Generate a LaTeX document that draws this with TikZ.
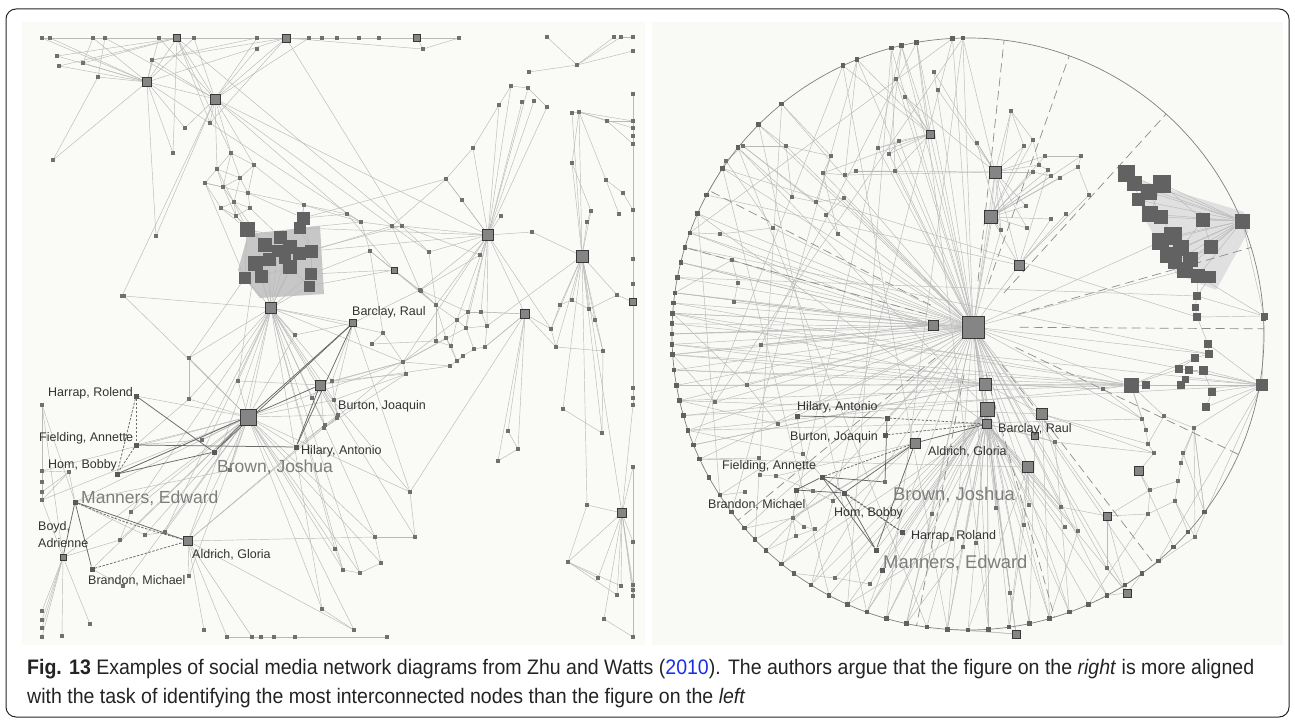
\documentclass[tikz,border=0pt]{standalone}
\usepackage{fontspec}
\setmainfont{Liberation Sans}
\newfontfamily\capfont[FakeStretch=0.93]{Liberation Sans}
\usetikzlibrary{calc}
\definecolor{edgec}{RGB}{185,185,185}
\definecolor{nodec}{RGB}{112,112,112}
\definecolor{darksq}{RGB}{98,98,98}
\definecolor{panelL}{RGB}{250,250,247}
\definecolor{panelR}{RGB}{249,249,246}
\definecolor{egoc}{RGB}{105,105,105}
\definecolor{linkblue}{RGB}{25,45,235}
\definecolor{biglabc}{RGB}{125,125,125}
\definecolor{capc}{RGB}{35,35,35}
\pgfdeclarelayer{panel}
\pgfdeclarelayer{bg}
\pgfsetlayers{panel,bg,main}
\begin{document}
\begin{tikzpicture}[x=1pt,y=-1pt,
  sn/.style={rectangle,fill=nodec,minimum size=3.4pt,inner sep=0pt},
  pn/.style={rectangle,fill=black!62,minimum size=4.5pt,inner sep=0pt},
  en/.style={rectangle,fill=black!65,minimum size=5pt,inner sep=0pt},
  mq/.style={rectangle,draw=black!78,fill=black!48,line width=0.7pt,minimum size=#1,inner sep=0pt},
  mq/.default=9pt,
  bq/.style={rectangle,fill=darksq,minimum size=#1,inner sep=0pt},
  bq/.default=13pt,
  ed/.style={draw=edgec,line width=0.45pt},
  ego/.style={draw=egoc,line width=0.75pt},
  egod/.style={draw=egoc,line width=0.75pt,dash pattern=on 2.5pt off 1.5pt},
  dsh/.style={draw=black!45,line width=0.7pt,dash pattern=on 9pt off 5pt},
  lab/.style={font=\fontsize{12.5}{13}\selectfont,text=black!80,inner sep=0pt,anchor=west},
  biglab/.style={font=\fontsize{17.5}{19}\selectfont,text=biglabc,inner sep=0pt,anchor=west},
  capt/.style={font=\capfont\fontsize{21}{25}\selectfont,text=capc,inner sep=0pt,anchor=base west},
]
\useasboundingbox (0,0) rectangle (1295,722);

% ---------------- panels and frame ----------------
\begin{pgfonlayer}{panel}
\fill[panelL] (22,22) rectangle (645,645);
\fill[panelR] (652,22) rectangle (1283,645);
\fill[black!22] (248,234) -- (320,226) -- (324,294) -- (260,298) -- (238,270) -- cycle;
\fill[black!12] (1138,180) -- (1244,212) -- (1248,232) -- (1216,290) -- (1176,274) -- (1143,216) -- cycle;
\end{pgfonlayer}
\draw[black!85,line width=1pt,rounded corners=10pt] (6,9) rectangle (1289,717);

% ================= LEFT PANEL =================
\foreach \n/\x/\y in {t1/42/38, t2/50/38, t3/93/38, t4/105/38, t5/159/38, t7/194/38, t8/257/38, t10/309/38, t11/322/38, t12/337/38, t13/359/38, t14/379/38, t16/459/38, t17/423/49,
 u1/547/37, u2/577/65, u3/614/37, u4/621/37, u5/633/37, u6/633/51, u7/529/72,
 p1/57/56, p2/59/66, p3/83/63, p4/98/77, p5/53/160, p6/152/60, p7/257/49, p8/185/128, p9/173/153, p10/210/123, p11/156/236, p12/122/296,
 a1/231/153, a2/254/165, a3/217/169, a4/205/183, a5/223/187, a6/240/178, a7/248/193, a8/221/208, a9/236/216, a10/250/208, a11/234/202, a12/304/205,
 m1/347/214, m2/361/222, m3/392/226, m4/402/226, m5/370/251, m7/421/291, m8/124/296, m9/295/335, m10/189/358, m11/189/399, m12/238/381, m13/429/252,
 c1/480/255, c2/446/179, c3/473/148, c4/499/105, c5/511/86, c6/528/88, c7/522/102, c8/534/101, c9/547/107, c10/501/216, c11/532/232, c12/462/200,
 d1/436/305, d2/457/320, d3/468/312, d4/481/312, d5/466/328, d6/487/326, d7/446/338, d8/436/341, d9/451/346, d10/474/349, d11/485/347, d12/457/361, d13/463/356, d14/450/366, d15/403/362, d16/420/290, d17/406/374,
 r1/633/94, r2/633/128, r3/633/136, r4/633/144, r5/633/210, r6/633/259, r7/633/284, r8/633/388, r9/633/398, r10/633/405,
 e1/572/113, e2/607/121, e3/633/121, e4/572/163, e5/606/180, e6/591/211, e7/623/193, e8/619/214, e9/587/222, e10/579/112,
 f1/572/300, f2/560/305, f3/589/309, f4/595/320, f5/551/329, f6/556/347, f7/617/295, f8/603/351, f9/563/409, f10/602/433, f11/498/461, f12/508/431, f13/518/449,
 g1/633/467, g2/633/542, g3/633/585, g4/633/590, g5/633/596, g6/633/637, g7/568/562, g8/587/505, g9/598/578, g10/621/586, g11/617/595, g12/604/619,
 h1/383/333, h2/372/344, h3/332/381, h4/337/418, h5/324/428, h6/410/492, h7/415/537, h8/375/537, h9/381/563, h10/360/573, h11/343/570, h12/335/549, h13/354/630, h14/322/609, h15/189/576, h16/204/630, h17/90/624, h18/123/586,
 k1/227/637, k2/252/637, k3/261/637, k4/274/637, k5/295/637, k6/387/637,
 l1/42/405, l2/42/471, l3/42/482, l4/42/492, l5/42/500, l6/69/472, l7/42/611, l8/42/620, l9/42/628, l10/42/637, l11/62/636,
 q1/334/400, q2/338/415, q3/325/425, q4/312/398,
 n1/202/440, n2/230/470, v1/131/512, v2/120/540, v3/165/532, v4/145/535}
 \node[sn] (\n) at (\x,\y) {};
\foreach \n/\x/\y in {HI/296/447, HR/136/396, FI/136/445, HO/117/474, MA/75/502, BM/92/569, JX/214/452}
 \node[en] (\n) at (\x,\y) {};
\foreach \n/\x/\y/\s in {T6/177/38/7pt, T9/286/38/8pt, T15/417/38/7pt, S1/147/82/9pt, S2/215/99/10pt, H1/271/308/11pt, M6/394/270/6pt, C1/488/235/11pt, C2/525/314/9pt, C3/582/256/12pt, C4/633/302/7pt, C5/622/513/9pt, BR/248/417/16pt, BA/353/323/7pt, BU/320/385/10pt, AL/188/541/9pt, BO/63/557/6pt}
 \node[mq=\s] (\n) at (\x,\y) {};
\foreach \n/\x/\y/\s in {b1/247/229/15pt, b2/303/218/13pt, b3/265/245/14pt, b4/280/237/13pt, b5/290/247/14pt, b6/299/253/13pt, b7/311/251/13pt, b8/255/263/15pt, b9/269/259/13pt, b10/290/267/14pt, b11/311/274/12pt, b12/245/278/12pt, b13/261/276/13pt, b14/309/286/11pt, b15/278/251/12pt, b16/300/228/12pt, b17/285/258/12pt}
 \node[bq=\s] (\n) at (\x,\y) {};

\begin{pgfonlayer}{bg}
\foreach \a/\b in {t1/t2, t2/t3, t3/t4, t4/t5, t5/T6, T6/t7, t7/t8, t8/T9, T9/t10, t10/t11, t11/t12, t12/t13, t13/t14, t14/T15, T15/t16, t16/t17, t17/T15, T9/t17, t7/T15,
 u1/u2, u2/u3, u2/u4, u2/u6, u2/u7, u4/u5,
 S1/t1, S1/t2, S1/p1, S1/p2, S1/p3, S1/p4, S1/t5, S1/T6, S1/t7, S1/p5, S1/p6, S1/T9, S1/S2, S1/p8, S1/p9, S1/t3,
 S2/t5, S2/T6, S2/t7, S2/p6, S2/p7, S2/T9, S2/p10, S2/p8, S2/p11, S2/t4, S2/a1, S2/a3, S2/t10,
 T6/p1, T6/p2, T6/p3, T6/p10, T6/p9, T6/a1, t3/p3, t4/p4, T9/p6, T9/p10, t8/p6, t8/S2, p11/S1, p12/S2, p5/p4,
 S2/a2, S2/m1, S2/m3, S1/m2, T6/m4, T9/m4, S2/C1,
 a1/a3, a1/a6, a1/a2, a2/a6, a2/a7, a3/a4, a3/a5, a4/a5, a4/a8, a5/a6, a5/a11, a6/a7, a6/a11, a7/a10, a8/a9, a8/a11, a9/a10, a9/a11, a10/a11, a2/a12, a7/a12, a12/m1, a12/m2, a4/a7, a3/a6, a5/a9, a1/a5,
 a8/b1, a9/b1, a9/b3, a10/b4, a11/b3, a7/b2, a12/b2, a12/b16, a4/b12, a3/b1,
 b1/b3, b1/b4, b3/b8, b3/b9, b4/b5, b5/b6, b6/b7, b7/b11, b8/b12, b9/b13, b10/b14, b11/b14, b15/b17, b2/b16, b16/b7, b4/b15, b12/b13, b13/b10, b1/b12, b2/b7,
 b8/H1, b9/H1, b10/H1, b11/H1, b12/H1, b13/H1, b14/H1, b17/H1, b6/H1, b3/H1, b15/H1,
 b2/m1, b16/m2, b7/m3, b11/m5, b14/M6, b6/m4, b7/C1, b2/c2, b16/C1, b11/M6,
 H1/m8, H1/m9, H1/m10, H1/m11, H1/m12, H1/BR, H1/BU, H1/BA, H1/h3, H1/h4, H1/h11, H1/h12, H1/h10, H1/q1, H1/d15, H1/h14, H1/h1, H1/AL, H1/n1, H1/h8, H1/q3,
 m1/m2, m2/m3, m3/m4, m4/C1, m4/c1, m3/m13, m5/M6, M6/m7, m7/d16, m13/d1, m2/m5, m1/M6, m4/m13, m13/C1, m3/d16, m5/d1, M6/d1, m5/h1,
 C1/c1, C1/c2, C1/c3, C1/c4, C1/c5, C1/c6, C1/c7, C1/c8, C1/c9, C1/c10, C1/c11, C1/c12, C1/d1, C1/d2, C1/d3, C1/d4, C1/d5, C1/d6, C1/C2, C1/d15, C1/d16, C1/f5, c4/c5, c5/c6, c4/c3, c3/c2, c6/c9, c2/m3, c12/c2, c1/d16,
 d1/d2, d1/d7, d1/d8, d2/d3, d2/d5, d3/d4, d4/d6, d5/d6, d5/d10, d6/d11, d7/d9, d8/d9, d9/d12, d10/d11, d10/d13, d12/d13, d13/d14, d14/d15, d15/d17, d16/d1, d16/d3, d15/d2, d15/d7, d15/d5, d11/C2, d4/C2, d6/C3, d2/d9, d3/d5, d7/d12,
 d15/h3, d15/BR, d15/BU, d15/h1, d17/h5, d17/q1, d14/BU, d15/AL, d16/BA, d8/h2,
 C3/e1, C3/e4, C3/e6, C3/e9, C3/f1, C3/f2, C3/f3, C3/f4, C3/f5, C3/f6, C3/f7, C3/f8, C3/e10, C3/c11, C3/f9, C3/C5, C3/g8,
 e10/e1, e10/e2, e10/e3, e10/e4, e2/e3, e5/e7, e5/e8, e6/e9, e7/r5, e4/e6, e10/e5, e2/r4, e10/r2,
 f1/f2, f2/f5, f3/f4, f4/f8, f5/f6, f6/f8, f1/f3, C4/f7, C4/r6, C4/r7, f7/f3, f10/f9, f10/C3, f8/f10,
 r1/e3, e3/r2, r2/r3, r3/r4, r4/r5, r5/r6, r6/r7, r7/C4, C4/r8, r8/r9, r9/r10, r10/C5,
 C2/f5, C2/f6, C2/d4, C2/d11, C2/f11, C2/f12, C2/f13, f12/f13, f11/f13, C2/h6,
 C5/g1, C5/g2, C5/g3, C5/g4, C5/g5, C5/g7, C5/g8, C5/g9, C5/g10, C5/g11, C5/g12, g7/g9, g7/g10, g7/g11, g1/g2, g2/g3, g3/g4, g4/g5, g5/g6, g8/g7, g12/g6,
 h1/h2, h3/h4, h4/h5, h6/h7, h7/h8, h8/h9, h9/h10, h10/h11, h11/h12, h13/h14, BR/h6, BR/h8, BR/h9, BR/h10, BR/h12, BR/h14, BR/h13, BU/h6, BU/h7, BA/h6, h3/d17, BU/h4, BU/h5,
 AL/h15, AL/h16, AL/k1, AL/k2, AL/h13, h17/BO, h18/BR, BO/l7, BO/l8, BO/l9, BO/l10, BO/l11, l1/l2, l2/l3, l3/l4, l4/l5, l6/l2, l6/l4, l6/l5, l6/MA, l1/MA, l1/BO, l5/BO, k1/k2, k2/k3, k3/k4, k4/k5, k5/k6, h15/BR,
 BR/FI, BR/HO, BR/MA, BR/AL, BR/BO, BR/n1, BR/n2, BR/BM, BR/q1, BR/HI, BR/q2, BR/v1, BR/v3, BR/v4, BR/HR, BR/h11,
 q1/q2, q2/q3, q4/BU, q1/BA, q3/HI, n1/FI, n2/MA, v1/v2, v3/v4, v2/BO, v4/MA, m10/BR, m11/BR, m12/BR, m9/BR, m8/BR, m10/m11, AL/q3, AL/h8, BM/h18, m11/FI,
 BA/m9, BA/h3, BU/m12, H1/v1, H1/v3, H1/n2, b12/m10, b8/m12, BR/l2, BR/l5, BR/v2}
 \draw[ed] (\a) -- (\b);
\foreach \a/\b in {HR/FI, HR/HO, BM/AL, FI/HO}
 \draw[egod] (\a) -- (\b);
\foreach \a/\b in {HR/JX, FI/HI, HO/JX, HO/BU, MA/AL, MA/BM, BR/BA, BA/HI, BU/HI, BA/JX, BR/JX, BO/MA}
 \draw[ego] (\a) -- (\b);
\draw[egod] (MA) .. controls (120,522) and (150,530) .. (AL);
\end{pgfonlayer}

% left labels
\node[lab] (lHR) at (48,393) {Harrap, Rolend};
\node[lab] (lFI) at (39,438) {Fielding, Annette};
\node[lab] (lHO) at (48,465) {Hom, Bobby};
\node[lab] (lBO1) at (38,527) {Boyd,};
\node[lab] (lBO2) at (38,543) {Adrienne};
\node[lab] (lAL) at (192,555) {Aldrich, Gloria};
\node[lab] (lBM) at (88,581) {Brandon, Michael};
\node[lab] (lBA) at (352,312) {Barclay, Raul};
\node[lab] (lBU) at (338,406) {Burton, Joaquin};
\node[lab] (lHI) at (301,451) {Hilary, Antonio};
\node[biglab] (lBR) at (217,467) {Brown, Joshua};
\node[biglab] (lMA) at (81,498) {Manners, Edward};

% ================= RIGHT PANEL =================
\draw[black!50,line width=0.7pt] (968,334) circle[radius=296];
\foreach \a [count=\i] in {269,267,260,257,255,248,245,231,225,219,214,208,204,200,197,194,191,188,186,184,182,180,178,176,173,170,167,164,161,158,155,151,147,143,139,136,133,129,126,122,118,114,110,106,102,98,94,90,86,82,78,74,70,66,62,58,54,50,46,42,37,357,10}
 \node[pn] (o\i) at ([shift={(\a:296)}]968,334) {};
\foreach \n/\x/\y in {i1/934/72, i2/896/79, i3/905/97, i4/938/90, i5/1011/111, i6/977/143, i7/1024/146, i8/1033/140, i9/1045/156, i10/1081/156, i11/1078/167, i12/1039/165, i13/1048/170, i14/1060/178, i15/1051/176, i16/1033/172, i17/1089/195, i18/1026/206, i19/1066/214, i20/1051/219, i21/1027/228, i22/1001/230, i23/899/141, i24/889/154, i25/878/148, i26/743/146, i27/726/161, i28/823/173, i29/845/175, i30/856/171, i31/895/171, i32/786/146, i33/831/156, i34/792/197, i35/816/202, i36/844/198, i37/826/215, i38/838/234, i39/773/228, i40/720/234, i41/732/260, i42/738/283, i43/734/302, i44/747/385, i45/761/345, i46/715/402, i47/778/424, i48/803/454, i49/759/458, i50/745/492, i51/760/475, i52/776/476, i53/813/491, i54/833/501, i55/793/518, i56/804/527, i57/815/529, i58/796/536, i59/885/482, i60/932/514, i61/963/547, i62/976/543, i63/996/508, i64/1024/525, i65/1029/505, i66/1061/507, i67/1065/527, i68/1078/531, i69/1055/442, i70/1107/568, i71/1010/593, i72/952/539, i73/835/578, i74/870/584,
 j1/1142/419, j2/1146/430, j3/1164/416, j4/1194/428, j5/1148/444, j6/1154/453, j7/1183/453, j8/1181/463, j10/1150/490, j11/1178/481, j12/1175/501, j13/1148/514, j14/1195/537, j15/1103/389}
 \node[sn] (\n) at (\x,\y) {};
\foreach \n/\x/\y in {HIr/797/416, hk/887/418, BUr/885/435, FIr/822/477, BMr/796/490, HOr/844/493, HRr/902/532, MAr/882/570, mm/876/550}
 \node[en] (\n) at (\x,\y) {};
\foreach \n/\x/\y/\s in {Z/973/327/22pt, Q1/933/325/10pt, Q2/995/172/12pt, Q3/991/217/13pt, Q4/1019/265/10pt, Q5/930/134/8pt, Q6/985/384/12pt, Q7/987/409/14pt, BAr/987/424/9pt, Q8/1042/414/11pt, Q9/1035/436/7pt, Q10/1028/467/11pt, ALr/915/443/10pt, Q11/1107/516/8pt, Q12/1127/593/8pt, Q13/1016/634/8pt, J9/1139/471/9pt}
 \node[mq=\s] (\n) at (\x,\y) {};
\foreach \n/\x/\y/\s in {X1/1131/385/15pt, X2/1262/385/12pt, y1/1197/296/8pt, y2/1195/307/7pt, y3/1197/317/8pt, y4/1208/344/8pt, y5/1209/354/8pt, y6/1195/358/8pt, y7/1179/369/8pt, y8/1189/370/8pt, y9/1203/370/9pt, y10/1181/385/8pt, y11/1185/379/7pt, y12/1212/392/8pt, y13/1206/407/8pt, y14/1146/385/8pt, y15/1264/316/7pt,
 w1/1126/174/17pt, w2/1134/184/15pt, w3/1149/192/16pt, w4/1162/184/18pt, w5/1150/214/16pt, w6/1161/217/14pt, w7/1173/236/18pt, w8/1160/241/17pt, w9/1181/248/16pt, w10/1168/255/16pt, w11/1190/259/15pt, w12/1185/270/16pt, w13/1198/276/14pt, w14/1203/220/14pt, w15/1211/247/14pt, w16/1242/221/15pt, w17/1210/277/12pt, w18/1138/200/13pt, w19/1175/262/14pt}
 \node[bq=\s] (\n) at (\x,\y) {};

\begin{pgfonlayer}{bg}
\foreach \b in {o1,o2,o3,o5,o6,o8,o9,o11,o13,o15,o17,o19,o21,o23,o25,o27,o29,o31,o33,o35,o37,o40,o43,o45,o47,o49,o51,o53,o55,o57,
 Q1,Q2,Q3,Q4,Q5,Q6,Q7,BAr,Q8,Q10,ALr,Q11,Q12,Q13,X1,X2,i1,i2,i5,i23,i26,i28,i32,i40,i44,i46,i60,i63,i66,i70,i71,w7,w12,y5,j1,i22,i24,i25,i31,i36,i38,i39,i45,hk,BUr,HIr,o14,o16,o18,o20,o22,o24,o26}
 \draw[ed] (Z) -- (\b);
\foreach \a/\b in {Q2/i5, Q2/i6, Q2/i7, Q2/i9, Q2/i12, Q2/i16, Q2/i18, Q2/i21, Q2/Q3, Q2/Q4, Q2/i22, Q2/i1, Q2/i4, Q2/o1, Q2/i3, Q2/i29, Q2/i30,
 Q3/i16, Q3/i18, Q3/i20, Q3/i21, Q3/i22, Q3/Q4, Q3/i7, Q3/i8, Q3/i9, Q3/i11, Q3/i13, Q3/i14, Q3/i15, Q3/i10, Q4/i19, Q4/i20, Q4/i17, Q4/i13,
 i5/i7, i5/i8, i9/i10, i10/i11, i11/i17, i12/i13, i15/i16, i8/i12, i6/i22,
 Q7/i60, Q7/i61, Q7/i62, Q7/i63, Q7/i64, Q7/i65, Q7/o46, Q7/o47, Q7/o48, Q7/o49, Q7/o50, Q7/o51, Q7/o43, Q7/o44, Q7/i72, Q7/i71, Q7/HRr, Q7/mm, Q7/i73, Q7/i74, Q7/MAr, Q7/o41, Q7/o42,
 BAr/o45, BAr/o47, BAr/o49, BAr/o52, BAr/o53, BAr/i66, BAr/i67, BAr/i68, BAr/Q12, BAr/Q13, BAr/Q10, BAr/o44, BAr/o54, BAr/o55, BAr/i69,
 Q6/o24, Q6/o26, Q6/o28, Q6/o30, Q6/X1, Q6/j15, Q6/o20,
 X1/o25, X1/o27, X1/o29, X1/o23, X1/y14, X1/y7, X1/y10, X1/X2, X1/j15, X1/j1, X1/j3, X1/j2, X1/y6,
 X2/y12, X2/y13, X2/y9, X2/j4, X2/j14, X2/o62, X2/y8, X2/y11,
 y15/w16, y15/y3, y15/y1, y15/w13, w13/y1, y1/y2, y2/y3, y3/y4, y4/y5, y5/y6, y6/y7, y7/y8, y8/y9, y9/y12, y12/y13, y10/y11, y4/X2, w17/y1,
 w1/w2, w2/w3, w3/w4, w4/w5, w5/w6, w6/w7, w7/w8, w8/w9, w9/w10, w10/w11, w11/w12, w12/w13, w13/w17, w14/w15, w1/w5, w3/w6, w4/w14, w14/w9, w15/w11,
 w16/w1, w16/w3, w16/w4, w16/w5, w16/w6, w16/w7, w16/w9, w16/w11, w16/w14, w16/w15, w16/w12, w16/w13, w16/w2, w16/w8, w16/w10, w16/w18, w16/w19,
 j1/j2, j2/j5, j3/j4, j4/j8, j5/j6, j6/J9, j7/j8, j8/j11, j10/j11, j11/j12, j12/j13, j13/j10, j3/j5, j7/j4, J9/j10, j14/j12, j14/j4, j15/j1, j4/o61, j7/o61,
 Q11/j13, Q11/j10, Q11/i66, Q11/i70, Q11/o56, Q12/o56, Q12/o57, Q12/i70, Q12/o55,
 i26/i32, i32/i33, i33/i28, i28/i29, i29/i30, i30/i31, i27/i26, i34/i35, i35/i36, i36/i37, i37/i38, o8/i33, o9/i32, o6/i29, o5/i31, o4/i24, i25/i23, i23/i24,
 Q5/i2, Q5/i3, Q5/i23, Q5/i24, Q5/i25, Q5/o3, Q5/o4, Q5/o7, Q5/i28, Q5/i31, Q5/o6,
 i41/i42, i42/i43, o18/i41, o12/i27, i34/o10, i39/i40, i40/o14, i28/i38, i33/i35, i32/i34, i26/i35, i27/i39,
 o14/Q1, o16/Q1, o18/Q1, o20/Q1, o22/Q1, o24/X1, o26/X1, o12/Q4, o10/Q7, o13/BAr, o27/Q8, o29/j1, o30/Q6, o31/Q10, o11/y3, o15/y5, o17/y1, o19/X1, o21/X2, o25/j15, o28/X2, o23/Q6, o20/X1,
 i44/o20, i46/o24, i47/o27, i48/o29, i49/o31, i50/o33, i44/i47, i45/i44, i49/i51, i51/i52, i52/i53, i53/i54, i55/i56, i56/i57, i57/i58, i58/i55, o35/i55, o37/i58, o39/i73, i73/i74,
 o40/Q7, o38/BAr, o42/i72, o45/i61, o50/i64, o52/i68, o54/j13, o56/j14, o58/X2, o60/j12, o59/J9, o61/j4,
 o1/o44, o2/o40, o3/o49, o4/o38, o5/o42, o7/o47, o8/o36, o11/o41, o2/o14, o1/i46, o3/i45, o6/o34, o9/o43, o10/o46, o4/o52, o7/o30, o13/o33,
 Q1/o16, Q1/o18, Q1/o22, Q1/o24, Q1/i41, Q1/i43, Q1/i45, ALr/o36, ALr/o38, ALr/i55, ALr/i52,
 Q10/o48, Q10/o50, Q10/i64, Q10/i65, Q10/i66, Q8/o52, Q8/i68, Q8/j5, Q8/j6, Q9/i69, Q9/o51, i69/j6, i69/o53, Q13/o47, Q13/o48, Q13/i71, i60/o43, i60/o45,
 Q6/Q7, Q7/BAr, BAr/Q9, Q6/Q8, HIr/i47, HIr/i48, BMr/i53, FIr/i48, HOr/i54, BMr/i55}
 \draw[ed] (\a) -- (\b);
\foreach \k/\a in {1/277,2/290,3/312,4/343,5/359,6/24,7/51,8/73,9/100,10/141,11/197,12/209}
 {\coordinate (dq\k) at ([shift={(\a:296)}]968,334);
  \coordinate (dp\k) at ($(Z)!0.16!(dq\k)$);
  \draw[dsh] (dp\k) -- (dq\k);}
\foreach \a/\b in {hk/BAr, BUr/BAr, FIr/ALr, FIr/HRr, HOr/HRr}
 \draw[egod] (\a) -- (\b);
\foreach \a/\b in {hk/i59, FIr/i59, FIr/mm, BMr/HOr, BMr/FIr, HOr/ALr, mm/ALr, ALr/BAr, HOr/mm, FIr/HOr, HIr/hk}
 \draw[ego] (\a) -- (\b);
\end{pgfonlayer}

% right labels
\node[lab] (rHI) at (797,407) {Hilary, Antonio};
\node[lab] (rBU) at (790,437) {Burton, Joaquin};
\node[lab] (rFI) at (722,466) {Fielding, Annette};
\node[lab] (rBM) at (708,505) {Brandon, Michael};
\node[lab] (rHO) at (834,513) {Hom, Bobby};
\node[lab] (rHR) at (911,536) {Harrap, Roland};
\node[lab] (rAL) at (928,452) {Aldrich, Gloria};
\node[lab] (rBA) at (998,429) {Barclay, Raul};
\node[biglab,font=\fontsize{18.4}{20}\selectfont] (rBR) at (893,495) {Brown, Joshua};
\node[biglab,font=\fontsize{18.4}{20}\selectfont] (rMA) at (883,563) {Manners, Edward};

% ================= CAPTION =================
\node[capt] (cap1) at (27,674) {\textbf{Fig. 13} Examples of social media network diagrams from Zhu and Watts (\textcolor{linkblue}{2010}). The authors argue that the figure on the \textit{right} is more aligned};
\node[capt] (cap2) at (27,703) {with the task of identifying the most interconnected nodes than the figure on the \textit{left}};
\end{tikzpicture}
\end{document}
